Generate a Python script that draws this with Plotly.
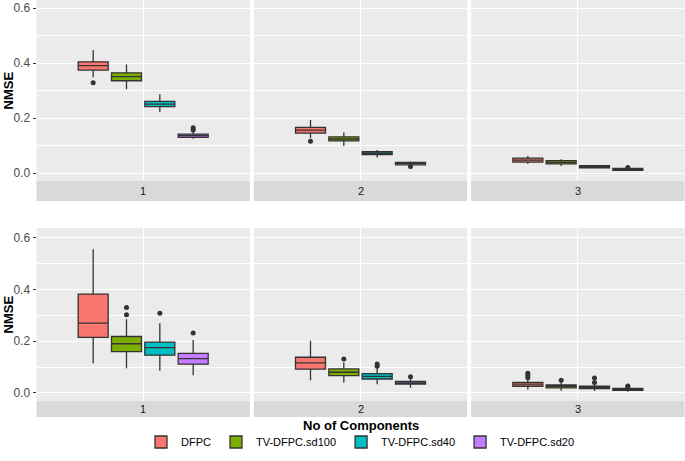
import plotly.graph_objects as go

# ---------------- data ----------------
series = ["DFPC", "TV-DFPC.sd100", "TV-DFPC.sd40", "TV-DFPC.sd20"]
colors = ["#F8766D", "#7CAE00", "#00BFC4", "#C77CFF"]
components = ["1", "2", "3"]
y_ticks = [0.0, 0.2, 0.4, 0.6]
y_tick_labels = ["0.0", "0.2", "0.4", "0.6"]

# top figure: [component][series]
top_lower = [[0.349, 0.305, 0.222, 0.125], [0.128, 0.098, 0.057, 0.028], [0.033, 0.026, 0.017, 0.008]]
top_q1 = [[0.375, 0.336, 0.242, 0.130], [0.145, 0.117, 0.067, 0.030], [0.040, 0.033, 0.019, 0.010]]
top_median = [[0.391, 0.351, 0.251, 0.136], [0.156, 0.124, 0.072, 0.035], [0.047, 0.039, 0.023, 0.013]]
top_q3 = [[0.405, 0.365, 0.261, 0.142], [0.166, 0.132, 0.078, 0.039], [0.054, 0.045, 0.027, 0.017]]
top_upper = [[0.448, 0.395, 0.287, 0.150], [0.193, 0.148, 0.084, 0.042], [0.062, 0.050, 0.030, 0.019]]
top_outliers = [
    [[0.329], [], [], [0.165, 0.157]],
    [[0.116], [], [], [0.024]],
    [[], [], [], [0.020]],
]

# bottom figure: [component][series]
bot_lower = [[0.115, 0.095, 0.086, 0.068], [0.049, 0.040, 0.034, 0.020], [0.013, 0.009, 0.008, 0.005]]
bot_q1 = [[0.215, 0.160, 0.146, 0.111], [0.092, 0.067, 0.054, 0.034], [0.026, 0.020, 0.017, 0.010]]
bot_median = [[0.270, 0.190, 0.175, 0.133], [0.116, 0.080, 0.064, 0.039], [0.034, 0.026, 0.021, 0.014]]
bot_q3 = [[0.382, 0.218, 0.196, 0.153], [0.138, 0.093, 0.075, 0.045], [0.041, 0.031, 0.026, 0.018]]
bot_upper = [[0.555, 0.285, 0.269, 0.205], [0.202, 0.119, 0.095, 0.055], [0.053, 0.044, 0.034, 0.022]]
bot_outliers = [
    [[], [0.330, 0.302], [0.308], [0.232]],
    [[], [0.131], [0.112, 0.103], [0.063]],
    [[0.076, 0.067, 0.059], [0.049], [0.058, 0.040], [0.027, 0.023]],
]

# ---------------- layout geometry ----------------
W, H = 685, 461
FONT = "Liberation Sans, Arial, Helvetica, sans-serif"
left_px, right_px, gap_px = 36.5, 684.5, 4.0
panel_w = (right_px - left_px - 2 * gap_px) / 3
x_domains = []
for i in range(3):
    a = left_px + i * (panel_w + gap_px)
    x_domains.append([a / W, (a + panel_w) / W])

rows = [
    dict(top=0, bottom=181, strip_bottom=201, yrange=[-0.029, 0.630],
         lower=top_lower, q1=top_q1, med=top_median, q3=top_q3, upper=top_upper, out=top_outliers),
    dict(top=228, bottom=401, strip_bottom=417, yrange=[-0.031, 0.637],
         lower=bot_lower, q1=bot_q1, med=bot_median, q3=bot_q3, upper=bot_upper, out=bot_outliers),
]

dodge = 0.75 / len(series)
box_w = dodge * 0.9

fig = go.Figure()
layout = dict(
    width=W, height=H, margin=dict(l=0, r=0, t=0, b=0, autoexpand=False),
    paper_bgcolor="white", plot_bgcolor="#EBEBEB",
    font=dict(family=FONT, color="#4D4D4D"),
    showlegend=True,
)
shapes, annotations = [], []

ax = 0
for r, row in enumerate(rows):
    y_dom = [1 - row["bottom"] / H, 1 - row["top"] / H]
    for c, comp in enumerate(components):
        ax += 1
        xa = "x" if ax == 1 else f"x{ax}"
        ya = "y" if ax == 1 else f"y{ax}"
        layout["xaxis" if ax == 1 else f"xaxis{ax}"] = dict(
            domain=x_domains[c], anchor=ya, range=[0.4, 1.6],
            tickvals=[1], showticklabels=False, ticks="",
            showgrid=True, gridcolor="white", gridwidth=1.1,
            zeroline=False, showline=False, fixedrange=True, automargin=False,
        )
        layout["yaxis" if ax == 1 else f"yaxis{ax}"] = dict(
            domain=y_dom, anchor=xa, range=row["yrange"],
            tickvals=y_ticks, ticktext=y_tick_labels,
            showticklabels=(c == 0), ticks="outside" if c == 0 else "",
            ticklen=3, tickwidth=1, tickcolor="#333333",
            tickfont=dict(size=12, color="#4D4D4D", family=FONT),
            showgrid=True, gridcolor="white", gridwidth=1.1,
            minor=dict(tickvals=[0.1, 0.3, 0.5], showgrid=True, gridcolor="white", gridwidth=0.55, ticks=""),
            zeroline=False, showline=False, fixedrange=True, automargin=False,
        )
        for k, name in enumerate(series):
            xpos = 1 + (k - (len(series) - 1) / 2) * dodge
            fig.add_trace(go.Box(
                x=[xpos], q1=[row["q1"][c][k]], median=[row["med"][c][k]], q3=[row["q3"][c][k]],
                lowerfence=[row["lower"][c][k]], upperfence=[row["upper"][c][k]],
                width=box_w, whiskerwidth=0, boxpoints=False,
                fillcolor=colors[k], line=dict(color="#333333", width=1.3),
                name=name, legendgroup=name, showlegend=(ax == 1),
                xaxis=xa, yaxis=ya, hoverinfo="skip",
            ))
            outs = row["out"][c][k]
            if outs:
                fig.add_trace(go.Scatter(
                    x=[xpos] * len(outs), y=outs, mode="markers",
                    marker=dict(color="#333333", size=5),
                    showlegend=False, legendgroup=name, xaxis=xa, yaxis=ya, hoverinfo="skip",
                ))
        # strip (facet label below panel)
        shapes.append(dict(
            type="rect", xref=f"{xa} domain", yref="paper",
            x0=0, x1=1, y0=1 - row["strip_bottom"] / H, y1=1 - row["bottom"] / H,
            fillcolor="#D9D9D9", line=dict(width=0), layer="below",
        ))
        annotations.append(dict(
            text=comp, xref=f"{xa} domain", yref="paper", x=0.5,
            y=1 - (row["bottom"] + row["strip_bottom"]) / 2 / H,
            showarrow=False, font=dict(size=11, color="#1A1A1A", family=FONT),
            xanchor="center", yanchor="middle",
        ))
    # y-axis title
    annotations.append(dict(
        text="<b>NMSE</b>", xref="paper", yref="paper", x=8 / W,
        y=1 - (row["top"] + row["bottom"]) / 2 / H, textangle=-90,
        showarrow=False, font=dict(size=13, color="black", family=FONT),
        xanchor="center", yanchor="middle",
    ))

annotations.append(dict(
    text="<b>No of Components</b>", xref="paper", yref="paper",
    x=(left_px + right_px) / 2 / W, y=1 - 425 / H, showarrow=False,
    font=dict(size=13, color="black", family=FONT), xanchor="center", yanchor="middle",
))

layout["shapes"] = shapes
layout["annotations"] = annotations
layout["legend"] = dict(
    orientation="h", x=(left_px + right_px) / 2 / W, xanchor="center",
    y=1 - 442 / H, yanchor="middle", font=dict(size=11, color="black", family=FONT),
    bgcolor="rgba(0,0,0,0)", itemwidth=30, tracegroupgap=0, itemclick=False,
)
fig.update_layout(**layout)
fig.write_html(
    "out.html",
    config={"displayModeBar": False},
    post_script="document.body.style.margin='0';document.body.style.overflow='hidden';",
)
